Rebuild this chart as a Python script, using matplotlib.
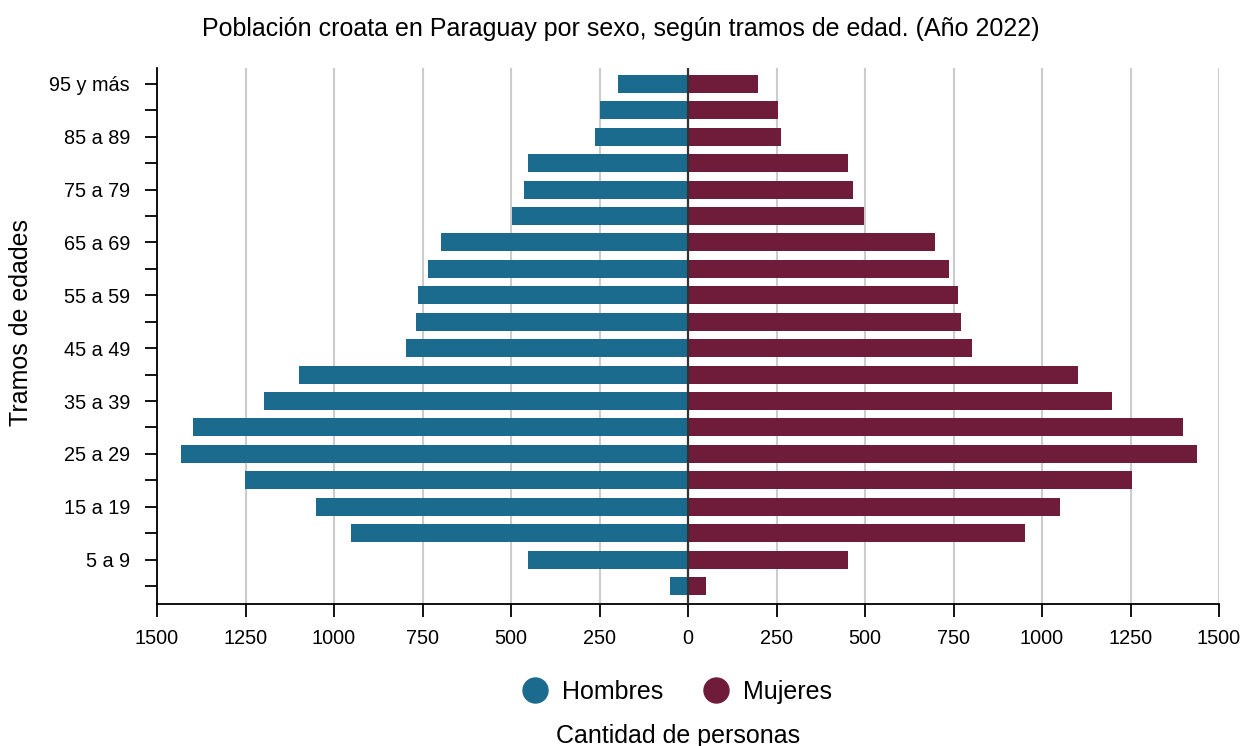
import numpy as np
import matplotlib.pyplot as plt
from matplotlib.lines import Line2D

plt.rcParams['font.family'] = ['Liberation Sans', 'DejaVu Sans']

# Tramos de edad (de menor a mayor)
tramos = ['0 a 4', '5 a 9', '10 a 14', '15 a 19', '20 a 24', '25 a 29', '30 a 34',
          '35 a 39', '40 a 44', '45 a 49', '50 a 54', '55 a 59', '60 a 64', '65 a 69',
          '70 a 74', '75 a 79', '80 a 84', '85 a 89', '90 a 94', '95 y más']
hombres = [50, 451, 951, 1050, 1251, 1432, 1399, 1198, 1099, 796,
           768, 762, 734, 697, 496, 463, 451, 262, 250, 198]
mujeres = [52, 453, 953, 1052, 1253, 1437, 1399, 1199, 1101, 801,
           770, 764, 736, 699, 498, 465, 453, 264, 253, 199]

color_h = '#1b6b8e'
color_m = '#6f1c3b'

y = np.arange(len(tramos))

fig = plt.figure(figsize=(12.41, 7.46), dpi=100)
ax = fig.add_axes([157/1241, 1 - 604/746, (1219-157)/1241, (604-68)/746])

ax.barh(y, -np.array(hombres), height=0.68, color=color_h, zorder=3)
ax.barh(y, mujeres, height=0.68, color=color_m, zorder=3)
ax.axvline(0, color='#333333', linewidth=1.6, zorder=4)

ax.set_xlim(-1500, 1500)
ax.set_ylim(-0.68, 19.6)
xt = np.arange(-1500, 1501, 250)
ax.set_xticks(xt)
ax.set_xticklabels([str(abs(v)) for v in xt])
ax.set_yticks(y)
ax.set_yticklabels([t if i % 2 == 1 else '' for i, t in enumerate(tramos)])
ax.grid(axis='x', color='#cccccc', linewidth=1.5, zorder=0)
ax.tick_params(axis='x', length=9, width=1.3, pad=9, labelsize=14.3)
ax.tick_params(axis='y', length=9, width=1.3, pad=10.5, labelsize=14.3)

for s in ['top', 'right']:
    ax.spines[s].set_visible(False)
for s in ['left', 'bottom']:
    ax.spines[s].set_linewidth(1.3)

fig.text(0.5, 1 - 29/746, 'Población croata en Paraguay por sexo, según tramos de edad. (Año 2022)',
         fontsize=18, ha='center', va='center')
ax.set_ylabel('Tramos de edades', fontsize=18)
ax.yaxis.set_label_coords((33 - 157)/1062, (604 - 323)/536)
ax.set_xlabel('Cantidad de personas', fontsize=18)
ax.xaxis.set_label_coords((678 - 157)/1062, (604 - 724)/536)

handles = [Line2D([], [], marker='o', linestyle='', markersize=18, color=color_h),
           Line2D([], [], marker='o', linestyle='', markersize=18, color=color_m)]
fig.legend(handles, ['Hombres', 'Mujeres'], loc='center', bbox_to_anchor=(671/1241, 1 - 692/746),
           ncol=2, frameon=False, fontsize=18, handletextpad=0.1, columnspacing=1.1)

plt.savefig('out.png', dpi=100)
